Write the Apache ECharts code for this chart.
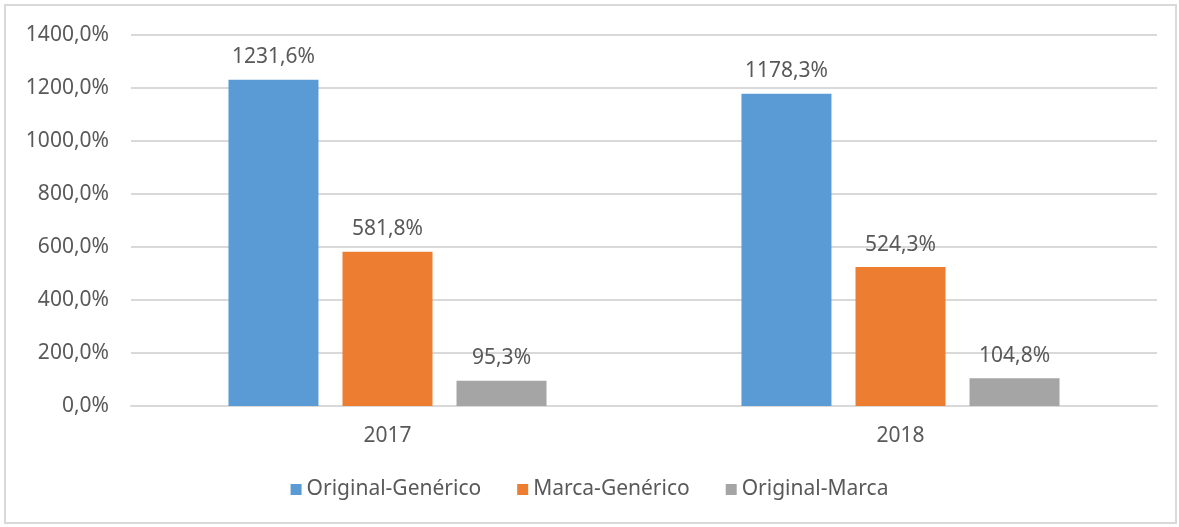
<!DOCTYPE html>
<html>
<head>
<meta charset="utf-8">
<script src="https://cdn.jsdelivr.net/npm/echarts@6/dist/echarts.min.js"></script>
<style>
html,body{margin:0;padding:0;background:#fff;}
#chart{position:absolute;left:0;top:0;width:1179px;height:527px;}
#frame{position:absolute;left:4px;top:4px;width:1169px;height:516px;border:2px solid #d9d9d9;}
</style>
</head>
<body>
<div id="frame"></div>
<div id="chart"></div>
<script>
var years = ['2017', '2018'];
var seriesNames = ['Original-Genérico', 'Marca-Genérico', 'Original-Marca'];
var origGen = [1231.6, 1178.3];
var marcaGen = [581.8, 524.3];
var origMarca = [95.3, 104.8];

var labelsize = 21, textcolor = '#595959', gridcolor = '#d9d9d9',
	fontfam = '"Noto Sans", "Open Sans", sans-serif';

function pct(v, d){
	return v.toFixed(d).replace('.', ',') + '%';
}

function mkSeries(name, data, color){
	return {
		name: name,
		type: 'bar',
		data: data,
		barWidth: 90,
		barGap: '26.7%',
		itemStyle: {color: color},
		label: {
			show: true,
			position: 'top',
			distance: 12,
			color: textcolor,
			fontSize: labelsize,
			fontFamily: fontfam,
			formatter: function (p) { return pct(p.value, 1); }
		}
	};
}

var myChart = echarts.init(document.getElementById('chart'));
var option = {
	animation: false,//no animation
	grid: {left: 131, right: 22, top: 35, bottom: 121, containLabel: false},
	legend: {
		data: seriesNames,
		bottom: 22,
		left: 'center',
		itemWidth: 11,
		itemHeight: 11,
		itemGap: 36,
		icon: 'rect',
		textStyle: {color: textcolor, fontSize: labelsize, fontFamily: fontfam}
	},
	xAxis: {
		type: 'category',
		data: years,
		axisTick: {show: false},
		axisLine: {lineStyle: {color: gridcolor, width: 2}},
		axisLabel: {color: textcolor, fontSize: labelsize, fontFamily: fontfam, margin: 20}
	},
	yAxis: {
		type: 'value',
		min: 0,
		max: 1400,
		interval: 200,
		axisLine: {show: false},
		axisTick: {show: false},
		splitLine: {lineStyle: {color: gridcolor, width: 2}},
		axisLabel: {
			color: textcolor, fontSize: labelsize, fontFamily: fontfam, margin: 22,
			formatter: function (v) { return pct(v, 1); }
		}
	},
	series: [
		mkSeries(seriesNames[0], origGen, '#5b9bd5'),
		mkSeries(seriesNames[1], marcaGen, '#ed7d31'),
		mkSeries(seriesNames[2], origMarca, '#a5a5a5')
	]
};
myChart.setOption(option);
</script>
</body>
</html>
